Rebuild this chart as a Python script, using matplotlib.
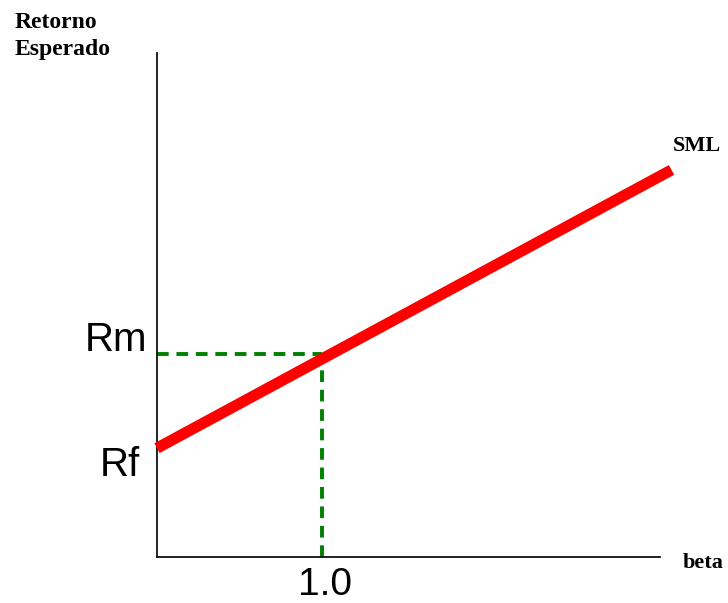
import matplotlib
matplotlib.use("Agg")
import matplotlib.pyplot as plt

# Data
beta_line = [0.0, 3.12]
sml_return = [0.216, 0.768]
rf_value = 0.216
rm_value = 0.403
market_beta = 1.0
x_max = 3.05
y_max = 1.0

fig = plt.figure(figsize=(7.28, 6.03), dpi=100)
ax = fig.add_axes([157/728, 46/603, 503/728, 504/603])
ax.set_xlim(0, x_max)
ax.set_ylim(0, y_max)
for s in ["top", "right"]:
    ax.spines[s].set_visible(False)
for s in ["left", "bottom"]:
    ax.spines[s].set_linewidth(1.3)
    ax.spines[s].set_color("#111111")
ax.set_xticks([])
ax.set_yticks([])

# SML line
ax.plot(beta_line, sml_return, color="#ff0000", lw=8, solid_capstyle="butt", clip_on=False, zorder=3)

# Dashed guides
ax.plot([0, market_beta], [rm_value, rm_value], color="#008000", lw=2.8, ls=(0, (3.0, 2.0)), zorder=2)
ax.plot([market_beta, market_beta], [0, rm_value], color="#008000", lw=2.8, ls=(0, (3.0, 2.0)), zorder=2)

sans = "Liberation Sans"
serif = "Liberation Serif"

ax.annotate("Rm", xy=(0, rm_value), xytext=(-7, 10), textcoords="offset points",
            ha="right", va="center", fontsize=29, family=sans, annotation_clip=False)
ax.annotate("Rf", xy=(0, rf_value), xytext=(-12, -12), textcoords="offset points",
            ha="right", va="center", fontsize=29, family=sans, annotation_clip=False)
ax.annotate("1.0", xy=(market_beta, 0), xytext=(2, -20), textcoords="offset points",
            ha="center", va="center", fontsize=28, family=sans, annotation_clip=False)

ax.annotate("beta", xy=(1, 0), xycoords="axes fraction", xytext=(16, -4), textcoords="offset points",
            ha="left", va="center", fontsize=16, family=serif, weight="bold", annotation_clip=False)
ax.annotate("SML", xy=(beta_line[1], sml_return[1]), xytext=(1, 17), textcoords="offset points",
            ha="left", va="center", fontsize=16, family=serif, weight="bold", annotation_clip=False)

fig.text(15/728, 1 - 12/603, "Retorno\nEsperado", ha="left", va="top", fontsize=17,
         family=serif, weight="bold", linespacing=1.4)

fig.savefig("out.png", dpi=100)
